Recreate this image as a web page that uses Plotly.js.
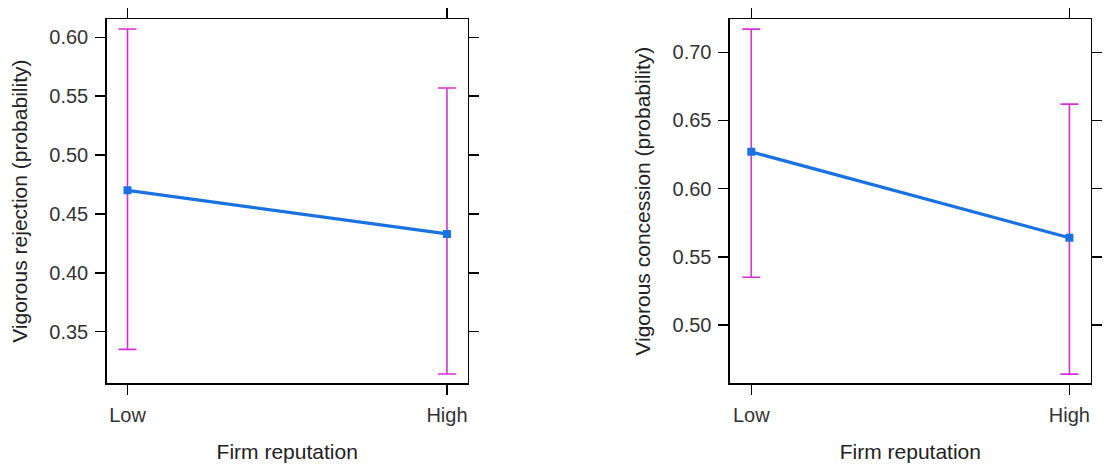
<!DOCTYPE html>
<html>
<head>
<meta charset="utf-8">
<script src="https://cdn.plot.ly/plotly-3.0.1.min.js"></script>
<style>html,body{margin:0;padding:0;background:#fff;}#chart{width:1107px;height:466px;}</style>
</head>
<body>
<div id="chart"></div>
<script>
// Data
var categories = ['Low', 'High'];
var rejectionFit = [0.470, 0.433];
var rejectionLower = [0.335, 0.314];
var rejectionUpper = [0.607, 0.557];
var concessionFit = [0.627, 0.564];
var concessionLower = [0.535, 0.464];
var concessionUpper = [0.717, 0.662];
var xTitle = 'Firm reputation';
var yTitleLeft = 'Vigorous rejection (probability)';
var yTitleRight = 'Vigorous concession (probability)';

var lineColor = '#1a72e2';
var barColor = '#d82ed8';
var fontFam = '"Liberation Sans", Arial, sans-serif';

function errTrace(fit, lo, hi, xa, ya) {
  return {
    x: categories, y: fit, xaxis: xa, yaxis: ya, type: 'scatter', mode: 'lines',
    line: {width: 0, color: barColor}, hoverinfo: 'skip', showlegend: false,
    error_y: {type: 'data', symmetric: false,
      array: hi.map(function (v, i) { return v - fit[i]; }),
      arrayminus: lo.map(function (v, i) { return fit[i] - v; }),
      color: barColor, thickness: 1.6, width: 9}
  };
}
function fitTrace(fit, xa, ya) {
  return {
    x: categories, y: fit, xaxis: xa, yaxis: ya, type: 'scatter', mode: 'lines+markers',
    line: {color: lineColor, width: 3.2}, marker: {color: lineColor, symbol: 'square', size: 8},
    showlegend: false
  };
}

var data = [
  errTrace(rejectionFit, rejectionLower, rejectionUpper, 'x', 'y'),
  fitTrace(rejectionFit, 'x', 'y'),
  errTrace(concessionFit, concessionLower, concessionUpper, 'x2', 'y2'),
  fitTrace(concessionFit, 'x2', 'y2')
];

var tickFont = {family: fontFam, size: 20, color: '#333'};
var titleFont = {family: fontFam, size: 21, color: '#222'};

function xAxis(domain, range, anchor) {
  return {
    domain: domain, anchor: anchor, type: 'category', range: range,
    showline: true, linecolor: '#000', linewidth: 1.5, mirror: 'ticks',
    ticks: 'outside', ticklen: 10, tickwidth: 1.5, tickcolor: '#000',
    showgrid: false, zeroline: false, tickfont: tickFont, ticklabelstandoff: 3,
    title: {text: xTitle, font: titleFont, standoff: 20}
  };
}
function yAxis(domain, range, anchor, title) {
  return {
    domain: domain, anchor: anchor, range: range,
    showline: true, linecolor: '#000', linewidth: 1.5, mirror: 'ticks',
    ticks: 'outside', ticklen: 10, tickwidth: 1.5, tickcolor: '#000',
    dtick: 0.05, tick0: 0, tickformat: '.2f',
    showgrid: false, zeroline: false, tickfont: tickFont, ticklabelstandoff: 3,
    title: {text: title, font: titleFont, standoff: 16}
  };
}

var layout = {
  width: 1107, height: 466,
  margin: {l: 0, r: 0, t: 0, b: 0},
  paper_bgcolor: '#fff', plot_bgcolor: '#fff',
  font: {family: fontFam},
  xaxis: xAxis([0.0964, 0.4225], [-0.065, 1.065], 'y'),
  yaxis: yAxis([0.1781, 0.9586], [0.3064, 0.6153], 'x', yTitleLeft),
  xaxis2: xAxis([0.6594, 0.9853], [-0.067, 1.067], 'y2'),
  yaxis2: yAxis([0.1781, 0.9586], [0.4575, 0.7242], 'x2', yTitleRight)
};

Plotly.newPlot('chart', data, layout, {displayModeBar: false, staticPlot: true});
</script>
</body>
</html>
